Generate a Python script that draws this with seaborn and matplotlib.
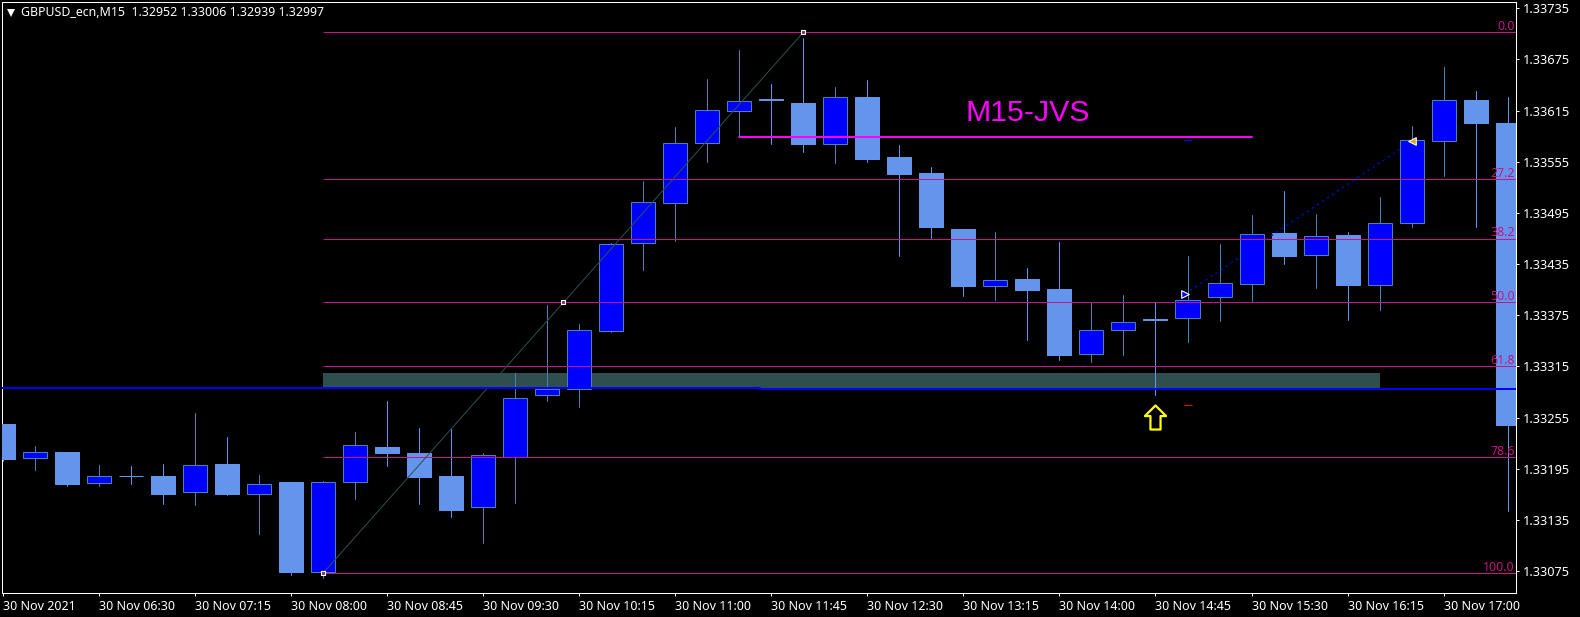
import numpy as np
import pandas as pd
import seaborn as sns
import matplotlib.pyplot as plt
from matplotlib.path import Path

# candles 05:45 -> 17:30, 15 min each
opens = [1.33247,1.33208,1.33215,1.33178,1.33187,1.33186,1.33168,1.33201,1.33165,1.33179,1.33074,1.33179,
         1.33221,1.33214,1.33186,1.33150,1.33209,1.33281,1.33288,1.33357,1.33460,1.33507,1.33577,1.33614,
         1.33629,1.33624,1.33576,1.33631,1.33561,1.33542,1.33476,1.33409,1.33418,1.33406,1.33330,1.33358,
         1.33371,1.33372,1.33396,1.33412,1.33471,1.33446,1.33469,1.33410,1.33483,1.33579,1.33628,1.33600]
highs = [1.33247,1.33222,1.33215,1.33199,1.33198,1.33201,1.33261,1.33232,1.33188,1.33180,1.33181,1.33238,
         1.33275,1.33243,1.33242,1.33214,1.33307,1.33387,1.33365,1.33460,1.33532,1.33596,1.33652,1.33686,
         1.33646,1.33700,1.33643,1.33651,1.33575,1.33549,1.33476,1.33473,1.33430,1.33461,1.33391,1.33399,
         1.33390,1.33445,1.33458,1.33493,1.33521,1.33494,1.33473,1.33514,1.33597,1.33666,1.33638,1.33631]
lows = [1.33204,1.33193,1.33175,1.33175,1.33177,1.33154,1.33152,1.33164,1.33118,1.33071,1.33067,1.33159,
        1.33198,1.33154,1.33138,1.33108,1.33155,1.33274,1.33267,1.33355,1.33428,1.33462,1.33555,1.33584,
        1.33576,1.33566,1.33554,1.33555,1.33445,1.33466,1.33398,1.33393,1.33346,1.33323,1.33320,1.33329,
        1.33281,1.33344,1.33368,1.33392,1.33435,1.33407,1.33369,1.33381,1.33478,1.33538,1.33479,1.33145]
closes = [1.33206,1.33215,1.33177,1.33187,1.33187,1.33166,1.33200,1.33165,1.33177,1.33074,1.33180,1.33223,
          1.33214,1.33185,1.33147,1.33211,1.33278,1.33289,1.33358,1.33459,1.33508,1.33577,1.33616,1.33626,
          1.33627,1.33576,1.33631,1.33558,1.33541,1.33478,1.33409,1.33416,1.33405,1.33329,1.33358,1.33367,
          1.33369,1.33393,1.33413,1.33470,1.33445,1.33468,1.33411,1.33483,1.33580,1.33627,1.33600,1.33246]

x_labels = ["30 Nov 2021","30 Nov 06:30","30 Nov 07:15","30 Nov 08:00","30 Nov 08:45","30 Nov 09:30",
            "30 Nov 10:15","30 Nov 11:00","30 Nov 11:45","30 Nov 12:30","30 Nov 13:15","30 Nov 14:00",
            "30 Nov 14:45","30 Nov 15:30","30 Nov 16:15","30 Nov 17:00"]
y_ticks = [1.33735,1.33675,1.33615,1.33555,1.33495,1.33435,1.33375,1.33315,1.33255,1.33195,1.33135,1.33075]

fib_names = ["0.0","27.2","38.2","50.0","61.8","78.6","100.0"]
fib_prices = [1.33707,1.33535,1.33465,1.33390,1.33315,1.33209,1.33073]
fib_start = 10

zone_x = [10, 43]
zone_y = [1.33290, 1.33307]
blue_x = [-1, 23.64, 23.64, 48]
blue_y = [1.33290, 1.33290, 1.33289, 1.33289]
magenta_x = [23, 39]
magenta_y = [1.33584, 1.33584]
trend_x = [10, 17.5, 25]
trend_y = [1.33073, 1.33390, 1.33707]
trade_x = [36.93, 44]
trade_y = [1.33400, 1.33579]
arrow_x, arrow_y = 36, 1.33256
stop_x, stop_y = 37, 1.33270
tp_x, tp_y = 37, 1.33580

BULL = "#0000FF"
BEAR = "#6495ED"
EDGE = "#4682B4"
FIB = "#C71585"
PX = 0.72  # one pixel at dpi 100

sns.set_theme(style="dark", rc={"axes.facecolor": "black", "figure.facecolor": "black"})
plt.rcParams["font.family"] = ["Noto Sans", "DejaVu Sans"]

df = pd.DataFrame({"open": opens, "high": highs, "low": lows, "close": closes})
df["idx"] = df.index
df["kind"] = np.where(df["close"] > df["open"], "bull", "bear")

fig = plt.figure(figsize=(15.8, 6.17), dpi=100)
ax = fig.add_axes([2.4/1580, 1-593.3/617, (1516.5-2.4)/1580, (593.3-2.3)/617])

ax.fill_between(zone_x, zone_y[0], zone_y[1], color="#2F4F4F", lw=0, zorder=1)

wicks = df.melt(id_vars=["idx", "kind"], value_vars=["high", "low"], value_name="price")
sns.lineplot(data=wicks, x="idx", y="price", units="idx", estimator=None, hue="kind",
             palette={"bull": EDGE, "bear": BEAR}, lw=PX, legend=False, ax=ax, zorder=2)

for kind, fc, ec in [("bull", BULL, EDGE), ("bear", BEAR, BEAR)]:
    d = df[df["kind"] == kind]
    ax.bar(d["idx"], d["close"]-d["open"], bottom=d["open"], width=0.75, color=fc,
           edgecolor=ec, linewidth=PX, zorder=3)

for name, p in zip(fib_names, fib_prices):
    ax.hlines(p, fib_start, 48, color=FIB, lw=PX, zorder=4)
    ax.annotate(name, xy=(1, p), xycoords=("axes fraction", "data"), xytext=(-1.2, 1.5),
                textcoords="offset points", ha="right", va="baseline", color=FIB, fontsize=8.9, zorder=7)

sns.lineplot(x=trend_x, y=trend_y, color="#2F4F4F", lw=PX, ax=ax, zorder=5)
sns.scatterplot(x=trend_x, y=trend_y, marker="s", s=9, color="#7A3060", edgecolor="white", linewidth=0.8, ax=ax, zorder=6)

ax.plot(trade_x, trade_y, color=BULL, lw=0.8, ls=(0, (2, 3.5)), zorder=5)
ax.scatter(trade_x[0], trade_y[0], marker=">", s=30, color=BULL, edgecolor="white", linewidth=0.8, zorder=6)
ax.scatter(trade_x[1], trade_y[1], marker="<", s=30, color="#DAA520", edgecolor="white", linewidth=0.8, zorder=6)
ax.scatter(stop_x, stop_y, marker="_", s=30, color="#FF0000", linewidth=PX, zorder=6)
ax.scatter(tp_x, tp_y, marker="_", s=30, color=BULL, linewidth=PX, zorder=6)

ax.plot(blue_x, blue_y, color=BULL, lw=2*PX, zorder=5)
ax.plot(magenta_x, magenta_y, color="#FF00FF", lw=2*PX, zorder=6)

arrow = Path([(0, 1), (0.88, 0.12), (0.42, 0.12), (0.42, -1), (-0.42, -1), (-0.42, 0.12), (-0.88, 0.12), (0, 1)], closed=True)
ax.scatter(arrow_x, arrow_y, marker=arrow, s=300, facecolor="black", edgecolor="#FFFF00", linewidth=1.6, zorder=7)

ax.text(30.06, 1.33603, "M15-JVS", color="#FF00FF", fontsize=21.8, family="Liberation Sans", va="baseline", zorder=7)

ax.set_xlim(-0.03, 47.28)
ax.set_ylim(1.33049, 1.33742)
ax.set_xticks(range(0, 48, 3))
ax.set_xticklabels(x_labels, ha="left", fontsize=9.0, color="white")
ax.set_yticks(y_ticks)
ax.set_yticklabels([f"{v:.5f}" for v in y_ticks], fontsize=9.2, color="white")
ax.yaxis.tick_right()
ax.tick_params(axis="both", colors="white", length=2.5, width=PX, pad=2, bottom=True, right=True, left=False)
ax.set_xlabel("")
ax.set_ylabel("")
ax.grid(False)
for s in ax.spines.values():
    s.set_visible(True)
    s.set_color("white")
    s.set_linewidth(PX)

ax.plot([0.0057], [0.9825], marker="v", ms=6, color="white", mew=0, transform=ax.transAxes, zorder=8)
ax.annotate("GBPUSD_ecn,M15  1.32952 1.33006 1.32939 1.32997", xy=(0, 1), xycoords="axes fraction",
            xytext=(13.4, -7.3), textcoords="offset points", va="center", color="white", fontsize=8.9, zorder=8)

fig.savefig("out.png", dpi=100, facecolor="black")
